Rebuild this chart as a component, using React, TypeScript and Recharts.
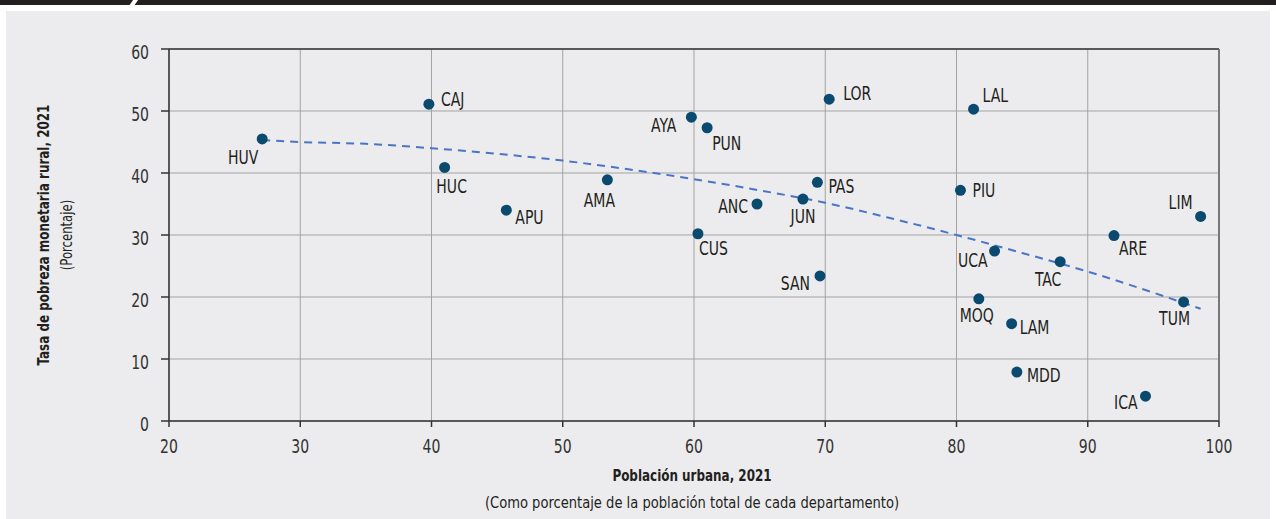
import { ComposedChart, Scatter, Line, XAxis, YAxis, CartesianGrid, ReferenceLine } from "recharts"

const FONT = '"DejaVu Sans Condensed", "DejaVu Sans", sans-serif'

// Departamentos (código), población urbana (%) y pobreza monetaria rural (%)
const DEPTS = ["HUV", "CAJ", "HUC", "APU", "AMA", "AYA", "PUN", "CUS", "ANC", "JUN", "PAS", "LOR", "SAN", "LAL", "PIU", "UCA", "MOQ", "LAM", "MDD", "TAC", "ARE", "ICA", "TUM", "LIM"]
const URBANA = [27.1, 39.8, 41.0, 45.7, 53.4, 59.8, 61.0, 60.3, 64.8, 68.3, 69.4, 70.3, 69.6, 81.3, 80.3, 82.9, 81.7, 84.2, 84.6, 87.9, 92.0, 94.4, 97.3, 98.6]
const POBREZA = [45.5, 51.1, 40.9, 34.0, 38.9, 49.0, 47.3, 30.2, 35.0, 35.8, 38.5, 51.9, 23.4, 50.3, 37.2, 27.4, 19.7, 15.7, 7.9, 25.7, 29.9, 4.0, 19.2, 33.0]

// Línea de tendencia
const TREND_X = [27.1, 30, 35, 40, 45, 50, 55, 60, 65, 70, 75, 80, 85, 90, 95, 98.6]
const TREND_Y = [45.3, 45.0, 44.7, 44.0, 43.1, 42.0, 40.6, 39.0, 37.2, 35.2, 32.7, 30.0, 27.1, 24.1, 20.7, 18.1]

const X_TICKS = [20, 30, 40, 50, 60, 70, 80, 90, 100]
const Y_TICKS = [0, 10, 20, 30, 40, 50, 60]

// dónde va la etiqueta respecto del punto: dx, dy, anclaje
const LABEL_PLACE: Record<string, [number, number, "start" | "middle" | "end"]> = {
  HUV: [-19, 18, "middle"],
  CAJ: [12, -5, "start"],
  HUC: [7, 19, "middle"],
  APU: [9, 7, "start"],
  AMA: [-8, 20, "middle"],
  AYA: [-15, 8, "end"],
  PUN: [5, 15, "start"],
  CUS: [1, 14, "start"],
  ANC: [-9, 2, "end"],
  JUN: [0, 17, "middle"],
  PAS: [11, 4, "start"],
  LOR: [14, -6, "start"],
  SAN: [-10, 7, "end"],
  LAL: [9, -14, "start"],
  PIU: [12, 0, "start"],
  UCA: [-7, 9, "end"],
  MOQ: [-2, 16, "middle"],
  LAM: [8, 3, "start"],
  MDD: [10, 3, "start"],
  TAC: [-12, 17, "middle"],
  ARE: [5, 13, "start"],
  ICA: [-8, 6, "end"],
  TUM: [-9, 16, "middle"],
  LIM: [-8, -14, "end"],
}

const points = DEPTS.map((name, i) => ({ name, x: URBANA[i], y: POBREZA[i] }))
const trend = TREND_X.map((x, i) => ({ x, y: TREND_Y[i] }))

// la fuente original es condensada: se estira DejaVu Condensed en horizontal
function Dot(props: any) {
  const { cx, cy, payload } = props
  const [dx, dy, anchor] = LABEL_PLACE[payload.name] || [8, 0, "start"]
  return (
    <g>
      <circle cx={cx} cy={cy} r={5.5} fill="#0b4a6f" />
      <text
        transform={`translate(${cx + dx},${cy + dy}) scale(0.82,1)`}
        dy="0.36em"
        textAnchor={anchor}
        fontSize={19}
        fontFamily={FONT}
        fill="#231f20"
      >
        {payload.name}
      </text>
    </g>
  )
}

function XTick(props: any) {
  const { x, y, payload } = props
  return (
    <text transform={`translate(${x},${y}) scale(0.78,1)`} dy="0.71em" textAnchor="middle" fontSize={20} fontFamily={FONT} fill="#333">
      {payload.value}
    </text>
  )
}

function YTick(props: any) {
  const { x, y, payload } = props
  return (
    <text transform={`translate(${x},${y}) scale(0.78,1)`} dy="0.5em" textAnchor="end" fontSize={20} fontFamily={FONT} fill="#333">
      {payload.value}
    </text>
  )
}

export default function App() {
  return (
    <div style={{ position: "absolute", left: 0, top: 0, width: 1276, height: 519, background: "white", overflow: "hidden" }}>
      {/* franja superior */}
      <div style={{ position: "absolute", left: 0, top: 0, width: 1276, height: 5, background: "#231f20" }} />
      <div style={{ position: "absolute", left: 131, top: -1, width: 5, height: 8, background: "white", transform: "skewX(-35deg)" }} />
      {/* panel gris */}
      <div style={{ position: "absolute", left: 6, top: 11, width: 1264, height: 508, background: "#ececee" }} />

      <div style={{ position: "absolute", left: 0, top: 0 }}>
        <ComposedChart width={1276} height={519} margin={{ top: 49, right: 57, bottom: 68, left: 109 }}>
          <CartesianGrid stroke="#a3a3a3" strokeWidth={1} />
          <XAxis
            type="number"
            dataKey="x"
            domain={[20, 100]}
            ticks={X_TICKS}
            allowDataOverflow
            height={30}
            stroke="#333"
            strokeWidth={1.5}
            tickSize={6}
            tickMargin={12}
            tick={XTick}
          />
          <YAxis
            type="number"
            dataKey="y"
            domain={[0, 60]}
            ticks={Y_TICKS}
            width={60}
            stroke="#333"
            strokeWidth={1.5}
            tickSize={8}
            tickMargin={12}
            tick={YTick}
          />
          <ReferenceLine y={60} stroke="#333" strokeWidth={1.5} />
          <ReferenceLine x={100} stroke="#777" strokeWidth={2} />
          <Line
            data={trend}
            dataKey="y"
            type="monotone"
            stroke="#4a75c6"
            strokeWidth={2}
            strokeDasharray="8 6"
            dot={false}
            activeDot={false}
            isAnimationActive={false}
          />
          <Scatter data={points} dataKey="y" shape={Dot} isAnimationActive={false} />
        </ComposedChart>
      </div>

      {/* títulos de ejes */}
      <div
        style={{
          position: "absolute",
          left: 54.5,
          top: 235,
          transform: "translate(-50%, -50%) rotate(-90deg)",
          whiteSpace: "nowrap",
          textAlign: "center",
          fontFamily: FONT,
          color: "#231f20",
          lineHeight: "23px",
        }}
      >
        <div style={{ fontSize: 16, fontWeight: 700, transform: "scaleX(0.83)" }}>Tasa de pobreza monetaria rural, 2021</div>
        <div style={{ fontSize: 16, transform: "scaleX(0.81)" }}>(Porcentaje)</div>
      </div>
      <div
        style={{
          position: "absolute",
          left: 692,
          top: 488.5,
          transform: "translate(-50%, -50%)",
          whiteSpace: "nowrap",
          textAlign: "center",
          fontFamily: FONT,
          color: "#231f20",
          lineHeight: "27px",
        }}
      >
        <div style={{ fontSize: 16, fontWeight: 700, transform: "scaleX(0.83)" }}>Población urbana, 2021</div>
        <div style={{ fontSize: 16, transform: "scaleX(0.91)" }}>(Como porcentaje de la población total de cada departamento)</div>
      </div>
    </div>
  )
}
